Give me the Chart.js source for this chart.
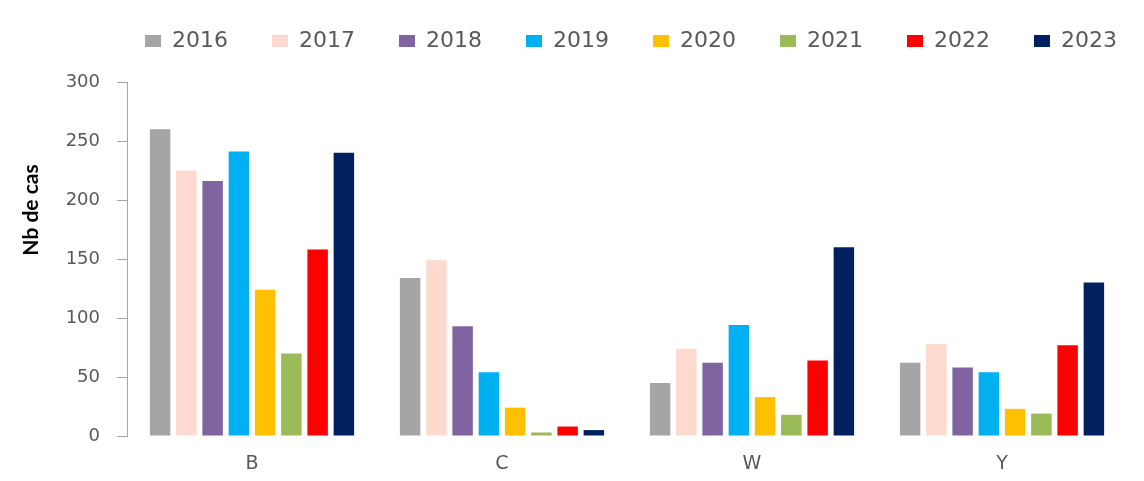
<!DOCTYPE html>
<html>
<head>
<meta charset="utf-8">
<script src="https://cdn.jsdelivr.net/npm/chart.js@4/dist/chart.umd.min.js"></script>
<style>
  html, body { margin: 0; padding: 0; background: #fff; }
  #wrap { width: 1144px; height: 481px; position: relative; }
</style>
</head>
<body>
<div id="wrap"><canvas id="bar-chart"></canvas></div>
<script>
'use strict';

// categories and years
const categories = ['B', 'C', 'W', 'Y'];
const annees = ['2016', '2017', '2018', '2019', '2020', '2021', '2022', '2023'];

// Nb de cas per year, one value per category (B, C, W, Y)
const cas2016 = [260, 134, 45, 62];
const cas2017 = [225, 149, 74, 78];
const cas2018 = [216, 93, 62, 58];
const cas2019 = [241, 54, 94, 54];
const cas2020 = [124, 24, 33, 23];
const cas2021 = [70, 3, 18, 19];
const cas2022 = [158, 8, 64, 77];
const cas2023 = [240, 5, 160, 130];

const yTicks = [0, 50, 100, 150, 200, 250, 300];

const couleurs = ['#a5a5a5', '#fdd9cf', '#8064a2', '#00b0f0', '#ffc000', '#9bbb59', '#ff0000', '#002060'];
const series = [cas2016, cas2017, cas2018, cas2019, cas2020, cas2021, cas2022, cas2023];

const gris = '#595959';
const axe = '#a6a6a6';

// legend: centre line at y=41, block centred at x=630
const legendPad = 44;
const legendFont = 22;
const legendTop = 41 - legendPad - legendFont / 2;
const legendCenter = 631;

// the axis title sits above the middle of the axis in the original
const titleShift = -49;

const placement = {
    id: 'placement',
    beforeLayout(chart) {
        const lg = chart.legend;
        if (!lg || lg._patched) return;
        const fit = lg.fit;
        lg.fit = function () {
            fit.call(this);
            this.height = 82;
        };
        lg._patched = true;
    },
    afterLayout(chart) {
        const lg = chart.legend;
        if (lg) {
            const dx = legendCenter - (lg.left + lg.right) / 2;
            lg.left += dx;
            lg.right += dx;
            lg.top = legendTop;
        }
        const y = chart.scales.y;
        if (y && !y._titlePatched) {
            const dt = y.drawTitle;
            y.drawTitle = function () {
                this.ctx.save();
                this.ctx.translate(0, titleShift);
                dt.call(this);
                this.ctx.restore();
            };
            y._titlePatched = true;
        }
    }
};

Chart.defaults.font.family = "'DejaVu Sans', Verdana, sans-serif";
Chart.defaults.color = gris;

new Chart('bar-chart', {
    type: 'bar',
    data: {
        labels: categories,
        datasets: annees.map((a, i) => ({
            label: a,
            data: series[i],
            backgroundColor: couleurs[i],
            borderWidth: 0,
            categoryPercentage: 0.84,
            barPercentage: 0.78
        }))
    },
    options: {
        responsive: true,
        maintainAspectRatio: false,
        animation: false,
        layout: { padding: { left: 15, right: 17, top: 0, bottom: 0 } },
        plugins: {
            tooltip: { enabled: false },
            legend: {
                position: 'top',
                labels: {
                    boxWidth: 16,
                    boxHeight: 12,
                    padding: legendPad,
                    color: gris,
                    font: { size: legendFont }
                }
            }
        },
        scales: {
            x: {
                grid: { display: false, drawTicks: false },
                border: { display: false },
                ticks: { padding: 17, color: gris, font: { size: 19 } },
                afterFit: s => { s.height = 45; }
            },
            y: {
                min: 0,
                max: 300,
                afterBuildTicks: s => { s.ticks = yTicks.map(v => ({ value: v })); },
                grid: { drawOnChartArea: false, drawTicks: true, tickLength: 10, color: axe, lineWidth: 1 },
                border: { display: true, color: axe, width: 1 },
                ticks: { padding: 17, color: gris, font: { size: 18 } },
                title: {
                    display: true,
                    text: 'Nb de cas',
                    color: '#000',
                    padding: { top: 4, bottom: 7 },
                    font: { family: "Lato, 'Liberation Sans', sans-serif", size: 21, weight: 'bold' }
                },
                afterFit: s => { s.width = 112; }
            }
        }
    },
    plugins: [placement]
});
</script>
</body>
</html>
